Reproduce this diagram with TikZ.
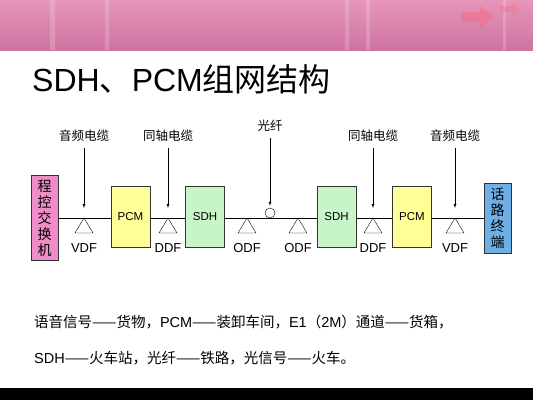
\documentclass[tikz,border=0pt]{standalone}
\usepackage{fontspec}
\setmainfont{Liberation Sans}
\newfontfamily\cjk{Noto Sans CJK SC}
\usepackage{tikz}

\definecolor{bantop}{RGB}{230,150,185}
\definecolor{banbot}{RGB}{205,115,160}
\definecolor{banarrow}{RGB}{245,110,140}
\definecolor{progpink}{RGB}{240,140,200}
\definecolor{pcmyel}{RGB}{255,255,150}
\definecolor{sdhgrn}{RGB}{200,245,200}
\definecolor{termblu}{RGB}{110,175,230}

\tikzset{
	box/.style={draw=black!80, minimum width=39pt, minimum height=61pt, inner sep=0pt, font=\fontsize{11.5}{12}\selectfont},
	cable/.style={font=\cjk\fontsize{12.5}{14}\selectfont, inner sep=1pt},
	dflabel/.style={font=\fontsize{13}{14}\selectfont, inner sep=0pt},
	vtext/.style={draw=black!80, minimum width=27pt, inner sep=0pt, align=center, font=\cjk\fontsize{14}{16}\selectfont}
}

\begin{document}
\begin{tikzpicture}[x=1pt,y=-1pt]
		\useasboundingbox (0,0) rectangle (533,400);
		% banner
		\shade[top color=bantop, bottom color=banbot] (0,0) rectangle (533,50);
		\fill[white,opacity=.18] (50,0) rectangle (55,50) (105,0) rectangle (109,50) (345,0) rectangle (349,50) (366,0) rectangle (370,50) (503,0) rectangle (506,50);
		\fill[banarrow,opacity=.6] (461,12) -- (480,12) -- (480,6) -- (494,17) -- (480,28) -- (480,22) -- (461,22) -- cycle;
		\fill[banarrow,opacity=.4] (500,6) -- (512,6) -- (512,2) -- (520,9) -- (512,16) -- (512,12) -- (500,12) -- cycle;
		\fill[black] (0,388) rectangle (533,400);
		% title
		\node[anchor=west, inner sep=0pt] (title) at (32,79) {\fontsize{32}{36}\selectfont SDH{\cjk 、}PCM{\cjk 组网结构}};
		% boxes
		\node[vtext, fill=progpink, minimum height=85pt] (prog) at (44.5,218) {程\\控\\交\\换\\机};
		\node[box, fill=pcmyel] (pcmL) at (130.5,216.5) {PCM};
		\node[box, fill=sdhgrn] (sdhL) at (205,216.5) {SDH};
		\node[box, fill=sdhgrn] (sdhR) at (336.5,216.5) {SDH};
		\node[box, fill=pcmyel] (pcmR) at (412,216.5) {PCM};
		\node[vtext, fill=termblu, minimum height=70pt] (term) at (497.5,218) {话\\路\\终\\端};
		\draw (prog.east) -- (pcmL.west |- prog.east);
		\draw (pcmL.east |- prog.east) -- (sdhL.west |- prog.east);
		\draw (sdhL.east |- prog.east) -- (sdhR.west |- prog.east);
		\draw (sdhR.east |- prog.east) -- (pcmR.west |- prog.east);
		\draw (pcmR.east |- prog.east) -- (term.west);
		% distribution frames
		\foreach \x/\n/\t in {84/vdfL/VDF,168/ddfL/DDF,247/odfL/ODF,298/odfR/ODF,373/ddfR/DDF,455/vdfR/VDF}{
			\coordinate (\n) at (\x,218);
			\draw (\n) -- ++(-9,15) -- ++(18,0) -- cycle;
			\node[dflabel] (\n t) at (\x,248) {\t};
		}
		\node[circle, draw, minimum size=10pt, inner sep=0pt] (fib) at (270,213) {};
		% cables
		\node[cable] (audL) at (84,136) {音频电缆};
		\node[cable] (coxL) at (168,136) {同轴电缆};
		\node[cable] (fibt) at (270,126) {光纤};
		\node[cable] (coxR) at (373,136) {同轴电缆};
		\node[cable] (audR) at (455,136) {音频电缆};
		\draw[-latex, shorten <=5pt, shorten >=10pt] (audL) -- (vdfL);
		\draw[-latex, shorten <=5pt, shorten >=10pt] (coxL) -- (ddfL);
		\draw[-latex, shorten <=5pt, shorten >=2pt] (fibt) -- (fib);
		\draw[-latex, shorten <=5pt, shorten >=10pt] (coxR) -- (ddfR);
		\draw[-latex, shorten <=5pt, shorten >=10pt] (audR) -- (vdfR);
		% notes
		\node[anchor=west, inner sep=0pt, font=\fontsize{14.5}{16}\selectfont] (note1) at (34,322) {{\cjk 语音信号——货物，}PCM{\cjk ——装卸车间，}E1{\cjk （}2M{\cjk ）通道——货箱，}};
		\node[anchor=west, inner sep=0pt, font=\fontsize{14.5}{16}\selectfont] (note2) at (34,358) {SDH{\cjk ——火车站，光纤——铁路，光信号——火车。}};
	\end{tikzpicture}
\end{document}
